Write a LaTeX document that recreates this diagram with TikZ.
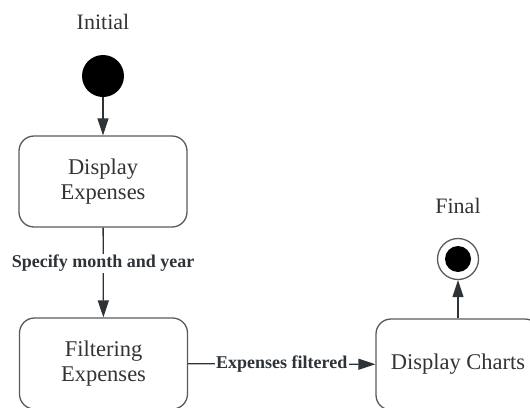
\documentclass[tikz,border=0pt]{standalone}
\usepackage{fontspec}
\setmainfont{Liberation Serif}
\usetikzlibrary{arrows.meta}
\definecolor{txt}{HTML}{333333}
\definecolor{edge}{HTML}{5A5A5A}
\definecolor{arr}{HTML}{2E3338}
\begin{document}
\begin{tikzpicture}[x=1pt,y=-1pt,
  statebox/.style={draw=edge,line width=1.3pt,rounded corners=15pt,minimum width=168pt,minimum height=91pt,align=center,text=txt,font=\fontsize{22.5}{25}\selectfont,inner sep=0pt},
  title/.style={text=txt,font=\fontsize{22}{25}\selectfont,inner sep=0pt},
  flow/.style={draw=arr,line width=1.3pt,-{Triangle[length=17pt,width=11pt]}},
  elbl/.style={fill=white,text=arr,font=\bfseries\fontsize{18}{20}\selectfont,inner sep=1.5pt}]
\useasboundingbox (0,0) rectangle (530,407);
\clip (0,0) rectangle (530,407);
\node[title] (initlbl) at (103,22) {Initial};
\node[circle,fill=black,minimum size=42pt,inner sep=0pt] (init) at (103,76) {};
\node[statebox] (disp) at (103,181.5) {Display\\Expenses};
\node[statebox] (filt) at (103.5,363.5) {Filtering\\Expenses};
\node[statebox,minimum width=164pt] (charts) at (458,364.5) {Display Charts};
\node[title] (finallbl) at (458,206) {Final};
\node[circle,draw=edge,line width=1.3pt,minimum size=41pt,inner sep=0pt] (final) at (458,259) {};
\node[circle,fill=black,minimum size=26pt,inner sep=0pt] (finaldot) at (final.center) {};
\draw[flow] (init) -- (disp);
\draw[flow] (disp) -- node[elbl,pos=0.4] {Specify month and year} (filt);
\draw[flow] (filt) -- node[elbl] {Expenses filtered} (charts);
\draw[flow] (charts) -- (final);
\end{tikzpicture}
\end{document}
